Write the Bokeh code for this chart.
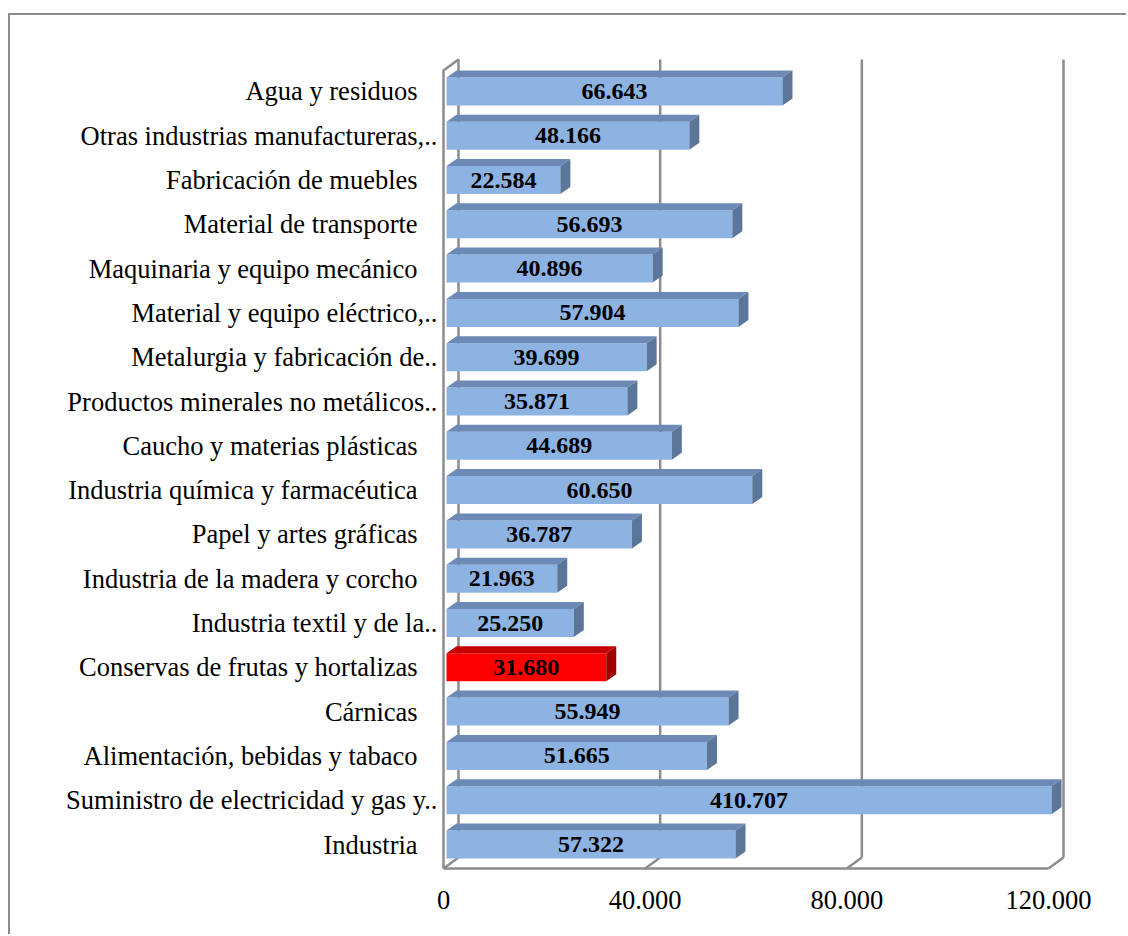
from bokeh.plotting import figure
from bokeh.models import FixedTicker, Range1d
from bokeh.embed import file_html
from bokeh.resources import INLINE
from bokeh.core.properties import value

# ---------------- data ----------------
categories = [
    "Industria",
    "Suministro de electricidad y gas y..",
    "Alimentación, bebidas y tabaco",
    "Cárnicas",
    "Conservas de frutas y hortalizas",
    "Industria textil y de la..",
    "Industria de la madera y corcho",
    "Papel y artes gráficas",
    "Industria química y farmacéutica",
    "Caucho y materias plásticas",
    "Productos minerales no metálicos..",
    "Metalurgia y fabricación de..",
    "Material y equipo eléctrico,..",
    "Maquinaria y equipo mecánico",
    "Material de transporte",
    "Fabricación de muebles",
    "Otras industrias manufactureras,..",
    "Agua y residuos",
]
values = [57322, 410707, 51665, 55949, 31680, 25250, 21963, 36787, 60650,
          44689, 35871, 39699, 57904, 40896, 56693, 22584, 48166, 66643]
highlight = "Conservas de frutas y hortalizas"
x_ticks = [0, 40000, 80000, 120000]
x_tick_labels = ["0", "40.000", "80.000", "120.000"]
axis_max = 120000

# ---------------- geometry (photo pixels) ----------------
OX, OY = 10, 15                   # canvas origin inside the bordered chart box
PX_X = 605.0 / axis_max          # px per data unit (x)
PX_Y = 44.3                      # px per category
ZERO_PX, ROW0_PX = 443, 844      # px of x=0 (front plane) and category 0 centre
F_L, F_R, F_T, F_B = 440, 1072, 50, 870
W, H = 1118, 921

x0 = (F_L - ZERO_PX) / PX_X
x1 = (F_R - ZERO_PX) / PX_X
y0 = (ROW0_PX - F_B) / PX_Y
y1 = (ROW0_PX - F_T) / PX_Y

WX, WY = 15 / PX_X, 11 / PX_Y          # wall depth
FLOOR = (ROW0_PX - 868) / PX_Y
WALL_TOP = (ROW0_PX - 70) / PX_Y
B0 = 3 / PX_X                           # bar start offset
BH = 28 / PX_Y                          # bar face height
BX, BY = 10 / PX_X, 7 / PX_Y            # bar depth

p = figure(width=W, height=H, output_backend="svg", toolbar_location=None,
           x_range=Range1d(x0, x1), y_range=Range1d(y0, y1),
           min_border_left=F_L - OX, min_border_right=W - (F_R - OX),
           min_border_top=F_T - OY, min_border_bottom=H - (F_B - OY))
p.outline_line_color = None
p.grid.visible = False
p.background_fill_color = "white"
p.border_fill_color = "white"
p.styles = {"margin-left": "8px", "margin-top": "13px",
            "border-left": "2px solid #8c8c8c", "border-top": "2px solid #8c8c8c"}

# ---------------- walls / grid ----------------
grid_col = "#8c8c8c"
xs, ys = [], []
xs.append([0, 0, WX, WX]); ys.append([FLOOR, WALL_TOP, WALL_TOP + WY, FLOOR + WY])
xs.append([0, axis_max]); ys.append([FLOOR, FLOOR])
for t in x_ticks:
    xs.append([t, t + WX]); ys.append([FLOOR, FLOOR + WY])
    if t > 0:
        xs.append([t + WX, t + WX]); ys.append([FLOOR + WY, WALL_TOP + WY])
p.multi_line(xs, ys, line_color=grid_col, line_width=2.5)

# ---------------- bars ----------------
n = len(categories)
front_c = ["#ff0000" if c == highlight else "#8db3e2" for c in categories]
top_c = ["#c40000" if c == highlight else "#6d8ab6" for c in categories]
side_c = ["#a00000" if c == highlight else "#5b7699" for c in categories]
vis = [min(v, axis_max) for v in values]

p.quad(left=[B0] * n, right=[B0 + v for v in vis],
       bottom=[i - BH / 2 for i in range(n)], top=[i + BH / 2 for i in range(n)],
       fill_color=front_c, line_color=None)
top_xs = [[B0, B0 + v, B0 + v + BX, B0 + BX] for v in vis]
top_ys = [[i + BH / 2, i + BH / 2, i + BH / 2 + BY, i + BH / 2 + BY] for i in range(n)]
p.patches(top_xs, top_ys, fill_color=top_c, line_color=None)
side_xs = [[B0 + v, B0 + v + BX, B0 + v + BX, B0 + v] for v in vis]
side_ys = [[i - BH / 2, i - BH / 2 + BY, i + BH / 2 + BY, i + BH / 2] for i in range(n)]
p.patches(side_xs, side_ys, fill_color=side_c, line_color=None)

labels = [f"{v:,}".replace(",", ".") for v in values]
p.text(x=[B0 + v / 2 for v in vis], y=list(range(n)), text=labels,
       text_font=value("Liberation Serif"), text_font_style="bold",
       text_font_size="24px", text_align="center", text_baseline="middle",
       text_color="black")

# ---------------- axes ----------------
ax = p.xaxis[0]
ax.ticker = FixedTicker(ticks=x_ticks)
ax.major_label_overrides = {t: l for t, l in zip(x_ticks, x_tick_labels)}
ay = p.yaxis[0]
ay.ticker = FixedTicker(ticks=list(range(n)))
ay.major_label_overrides = {i: (c if c.endswith("..") else c + "\u00a0\u00a0\u00a0")
                            for i, c in enumerate(categories)}
for a in (ax, ay):
    a.axis_line_color = None
    a.major_tick_line_color = None
    a.minor_tick_line_color = None
    a.major_tick_out = 0
    a.major_tick_in = 0
    a.major_label_text_font = "Liberation Serif"
    a.major_label_text_font_size = "26.5px"
    a.major_label_text_color = "black"
ax.major_label_standoff = 20
ay.major_label_standoff = 3

open("out.html", "w").write(file_html(p, INLINE))
